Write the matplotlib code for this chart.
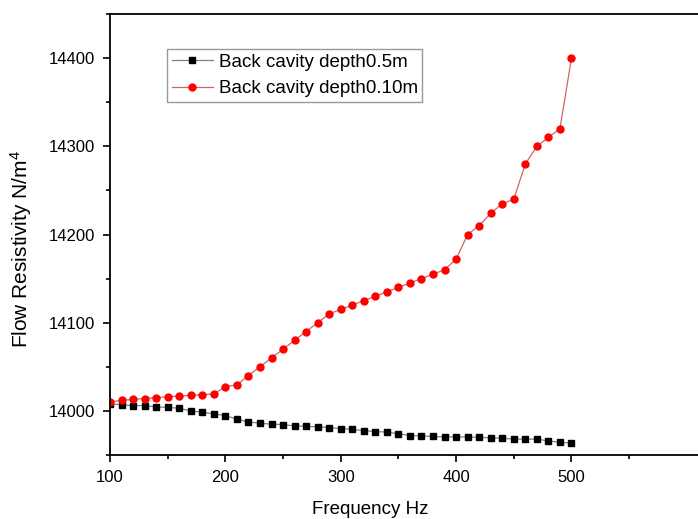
import matplotlib
matplotlib.use("Agg")
import matplotlib.pyplot as plt
from matplotlib.ticker import FixedLocator

plt.rcParams['font.family'] = ['Liberation Sans', 'DejaVu Sans']
plt.rcParams['mathtext.fontset'] = 'custom'
plt.rcParams['mathtext.rm'] = 'Liberation Sans'
plt.rcParams['mathtext.it'] = 'Liberation Sans'

freq = list(range(100, 501, 10))
depth_05 = [14008, 14007, 14006, 14006, 14004.5, 14004, 14003, 14000, 13998.5, 13996.6,
            13994.7, 13990.5, 13987.5, 13986, 13985, 13984.5, 13983, 13982.5, 13982, 13981,
            13980, 13979, 13977.6, 13976.5, 13976, 13974, 13972, 13971.6, 13971, 13970.5,
            13970.5, 13970.5, 13970, 13969.5, 13969, 13968, 13968, 13968, 13966, 13964.4,
            13963.6]
depth_010 = [14010, 14012, 14013, 14014, 14015, 14016, 14017, 14017.5, 14018.5, 14019,
             14027.6, 14029.5, 14040, 14050, 14060, 14070, 14080, 14090, 14100, 14110,
             14115, 14120, 14125, 14130, 14135, 14140, 14145, 14150, 14155, 14160,
             14172, 14200, 14210, 14224, 14235, 14240, 14280, 14300, 14310, 14320,
             14400]
labels = ["Back cavity depth0.5m", "Back cavity depth0.10m"]
x_major = [100, 200, 300, 400, 500]
x_minor = [150, 250, 350, 450, 550]
y_major = [14000, 14100, 14200, 14300, 14400]
y_minor = [13950, 14050, 14150, 14250, 14350, 14450]

fig = plt.figure(figsize=(6.98, 5.19), dpi=100)
W, H = 698, 519
left, right, top, bottom = 110, 703, 14, 455
ax = fig.add_axes([left / W, 1 - bottom / H, (right - left) / W, (bottom - top) / H])

ax.plot(freq, depth_05, color='#808080', lw=0.9, marker='s', ms=4.2,
        mfc='black', mec='black', label=labels[0])
ax.plot(freq, depth_010, color='#cc6666', lw=0.9, marker='o', ms=5,
        mfc='#ff0000', mec='#ff0000', label=labels[1])

ax.set_xlim(100, 614)
ax.set_ylim(13950, 14450)
ax.xaxis.set_major_locator(FixedLocator(x_major))
ax.xaxis.set_minor_locator(FixedLocator(x_minor))
ax.yaxis.set_major_locator(FixedLocator(y_major))
ax.yaxis.set_minor_locator(FixedLocator(y_minor))
ax.tick_params(which='major', direction='out', length=5, width=1.2, labelsize=12, pad=6)
ax.tick_params(which='minor', direction='out', length=3, width=1.2)
ax.spines['right'].set_visible(False)
for s in ['left', 'bottom', 'top']:
    ax.spines[s].set_linewidth(1.3)

ax.set_xlabel("Frequency Hz", fontsize=13.5)
ax.set_ylabel("Flow Resistivity N/m$^4$", fontsize=15)
ax.xaxis.set_label_coords(370 / W, 1 - 501 / H, transform=fig.transFigure)
ax.yaxis.set_label_coords(34 / W, 1 - 249 / H, transform=fig.transFigure)

leg = ax.legend(loc='upper left', bbox_to_anchor=(167 / W, 1 - 49 / H),
                bbox_transform=fig.transFigure, fontsize=13.5, frameon=True,
                fancybox=False, edgecolor='#808080', handlelength=2.2,
                handletextpad=0.3, borderpad=0.25, labelspacing=0.5,
                borderaxespad=0)
leg.get_frame().set_linewidth(1.0)

fig.savefig("out.png", dpi=100)
